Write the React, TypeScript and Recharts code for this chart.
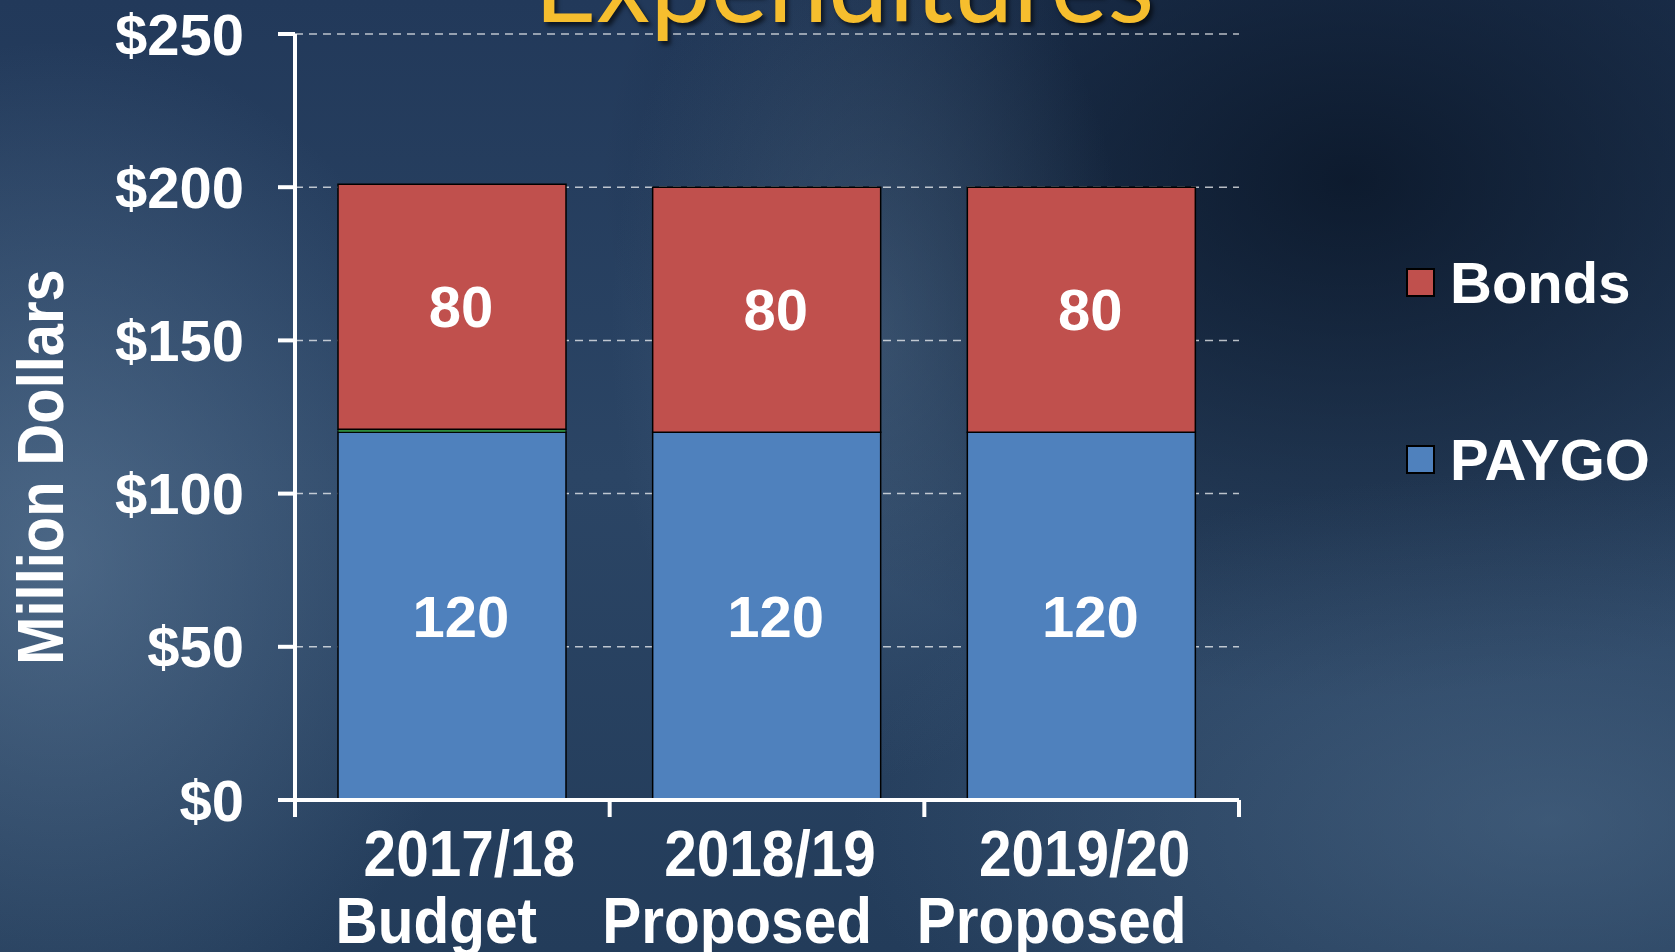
import { BarChart, Bar, XAxis, YAxis, CartesianGrid, LabelList, Legend } from 'recharts'

const categories = ['2017/18', '2018/19', '2019/20']
const subLabels = ['Budget', 'Proposed', 'Proposed']
const paygo = [120, 120, 120]
const other = [1, 0, 0]
const bonds = [80, 80, 80]
const yTicks = [0, 50, 100, 150, 200, 250]

const data = categories.map((c, i) => ({
  name: c,
  sub: subLabels[i],
  paygo: paygo[i],
  other: other[i],
  bonds: bonds[i],
}))

const FONT = "'Liberation Sans', Arial, Helvetica, sans-serif"

function XTick(props: any) {
  const { x, y, payload } = props
  const index = props.index ?? payload?.index ?? 0
  const half = payload?.offset || 157.5
  const axisY = y - 17
  const shift = index === 0 ? 14 : 0
  return (
    <g>
      <line x1={x - half} x2={x - half} y1={axisY} y2={axisY + 17} stroke="white" strokeWidth={4} />
      {index === categories.length - 1 && (
        <line x1={x + half} x2={x + half} y1={axisY} y2={axisY + 17} stroke="white" strokeWidth={4} />
      )}
      <text
        transform={`translate(${x + 3 + shift}, ${y + 59}) scale(0.9,1)`}
        textAnchor="middle"
        fill="white"
        fontSize={65}
        fontWeight="bold"
        fontFamily={FONT}
      >
        {payload.value}
      </text>
      <text
        transform={`translate(${x - 30 + shift}, ${y + 126}) scale(0.9,1)`}
        textAnchor="middle"
        fill="white"
        fontSize={65}
        fontWeight="bold"
        fontFamily={FONT}
      >
        {subLabels[index]}
      </text>
    </g>
  )
}

function YTitle() {
  return (
    <text
      transform="translate(40, 467) rotate(-90) scale(0.89,1)"
      textAnchor="middle"
      dominantBaseline="central"
      fill="white"
      fontSize={65}
      fontWeight="bold"
      fontFamily={FONT}
    >
      Million Dollars
    </text>
  )
}

function LegendContent(props: any) {
  const items = (props.payload || []).filter((it: any) => it.type !== 'none' && it.value !== 'Other')
  return (
    <div style={{ display: 'flex', flexDirection: 'column' }}>
      {items.map((it: any, i: number) => (
        <div key={it.value} style={{ display: 'flex', alignItems: 'center', height: 60, marginBottom: i === 0 ? 117 : 0 }}>
          <span style={{ width: 25, height: 25, background: it.color, border: '2px solid black', flexShrink: 0 }} />
          <span style={{ marginLeft: 15, color: 'white', fontSize: 58, fontWeight: 'bold', fontFamily: FONT, whiteSpace: 'nowrap' }}>
            {it.value}
          </span>
        </div>
      ))}
    </div>
  )
}

const bg = [
  'radial-gradient(ellipse 420px 520px at 60px 560px, rgba(115,145,175,0.45), rgba(115,145,175,0))',
  'radial-gradient(ellipse 260px 450px at 870px 330px, rgba(100,130,160,0.35), rgba(0,0,0,0))',
  'radial-gradient(ellipse 700px 350px at 1550px 820px, rgba(90,120,150,0.45), rgba(0,0,0,0))',
  'radial-gradient(ellipse 750px 520px at 1350px 180px, rgba(5,15,30,0.75), rgba(0,0,0,0))',
  'linear-gradient(180deg, #22395a 0%, #2b4565 50%, #233c5a 100%)',
].join(',')

export default function App() {
  return (
    <div style={{ position: 'fixed', left: 0, top: 0, width: 1675, height: 952, background: bg, overflow: 'hidden' }}>
      <BarChart
        width={1675}
        height={952}
        data={data}
        margin={{ top: 34, right: 436, left: 0, bottom: 0 }}
      >
        <CartesianGrid vertical={false} strokeDasharray="8 6" stroke="rgba(255,255,255,0.7)" strokeWidth={1.5} />
        <XAxis
          dataKey="name"
          height={152}
          tick={<XTick />}
          tickLine={false}
          tickSize={17}
          tickMargin={0}
          interval={0}
          axisLine={{ stroke: 'white', strokeWidth: 4 }}
        />
        <YAxis
          width={295}
          domain={[0, 250]}
          ticks={yTicks}
          interval={0}
          tickFormatter={(v: number) => `$${v}`}
          tick={{ fill: 'white', fontSize: 58, fontWeight: 'bold', fontFamily: FONT }}
          tickSize={17}
          tickMargin={34}
          tickLine={{ stroke: 'white', strokeWidth: 4 }}
          axisLine={{ stroke: 'white', strokeWidth: 4 }}
          label={{ content: () => <YTitle /> }}
        />
        <Legend
          layout="horizontal"
          align="center"
          verticalAlign="middle"
          content={<LegendContent />}
          wrapperStyle={{ position: 'absolute', left: 1406, top: 252, width: 269 }}
        />
        <Bar dataKey="paygo" name="PAYGO" stackId="a" fill="#4F81BD" stroke="#000" strokeWidth={1.5} barSize={228} isAnimationActive={false}>
          <LabelList dataKey="paygo" position="center" dx={9} fill="white" fontSize={58} fontWeight="bold" fontFamily={FONT} />
        </Bar>
        <Bar dataKey="other" name="Other" stackId="a" fill="#2E8B3E" stroke="#000" strokeWidth={1} barSize={228} legendType="none" isAnimationActive={false} />
        <Bar dataKey="bonds" name="Bonds" stackId="a" fill="#C0504D" stroke="#000" strokeWidth={1.5} barSize={228} isAnimationActive={false}>
          <LabelList dataKey="bonds" position="center" dx={9} fill="white" fontSize={58} fontWeight="bold" fontFamily={FONT} />
        </Bar>
      </BarChart>
      <div
        style={{
          position: 'absolute',
          left: 534,
          top: -74,
          fontFamily: 'Lato, "Open Sans", sans-serif',
          fontSize: 108,
          lineHeight: '108px',
          color: '#F6BE2E',
          textShadow: '3px 4px 4px rgba(0,0,0,0.6)',
          whiteSpace: 'nowrap',
        }}
      >
        Expenditures
      </div>
    </div>
  )
}
